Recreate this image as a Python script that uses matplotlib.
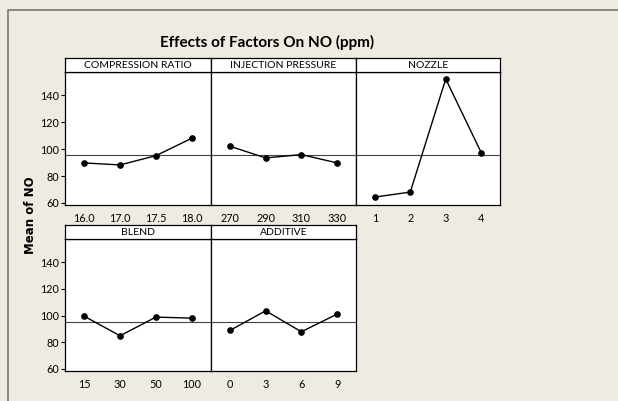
import numpy as np
import matplotlib
matplotlib.use("Agg")
import matplotlib.pyplot as plt
from matplotlib.lines import Line2D

# Main effects data (means of NO, ppm)
factors = ["COMPRESSION RATIO", "INJECTION PRESSURE", "NOZZLE", "BLEND", "ADDITIVE"]
cr_levels = ["16.0", "17.0", "17.5", "18.0"]
cr_means = [89.8, 88.3, 95.2, 108.2]
ip_levels = ["270", "290", "310", "330"]
ip_means = [102.2, 93.5, 96.0, 89.8]
nozzle_levels = ["1", "2", "3", "4"]
nozzle_means = [64.4, 68.1, 152.2, 97.5]
blend_levels = ["15", "30", "50", "100"]
blend_means = [99.6, 84.9, 98.9, 98.1]
additive_levels = ["0", "3", "6", "9"]
additive_means = [88.9, 103.6, 87.9, 101.1]
grand_mean = 95.4
y_ticks = [60, 80, 100, 120, 140]

levels = [cr_levels, ip_levels, nozzle_levels, blend_levels, additive_levels]
means = [cr_means, ip_means, nozzle_means, blend_means, additive_means]

W, H = 618, 401
bg = "#EFEBE2"
narrow = ["Lato", "DejaVu Sans"]

fig = plt.figure(figsize=(W / 100, H / 100), dpi=100, facecolor=bg)

def px(x0, y0, x1, y1):
    # pixel box (top-left origin) -> figure fraction rect
    return [x0 / W, 1 - y1 / H, (x1 - x0) / W, (y1 - y0) / H]

cols = [(65, 211), (211, 356), (356, 500)]
rows = [(58, 72, 205), (225, 239, 371)]

for i, name in enumerate(factors):
    r, c = divmod(i, 3)
    x0, x1 = cols[c]
    ys, yt, yb = rows[r]
    ax = fig.add_axes(px(x0, yt, x1, yb))
    ax.set_facecolor("white")
    xs = np.arange(len(levels[i]))
    ax.axhline(grand_mean, color="#444444", lw=0.8, zorder=1)
    ax.plot(xs, means[i], color="black", lw=1.0, marker="o", ms=3.8, zorder=3)
    ax.set_xlim(-0.53, 3.53)
    ax.set_ylim(58.5, 157.4)
    ax.set_xticks(xs)
    ax.set_xticklabels(levels[i], family=narrow, fontsize=7.8)
    ax.tick_params(axis="x", length=0, pad=6)
    if c == 0:
        ax.set_yticks(y_ticks)
        ax.set_yticklabels([str(t) for t in y_ticks], family=narrow, fontsize=7.8)
        ax.tick_params(axis="y", length=3, width=0.8, pad=1)
    else:
        ax.set_yticks([])
    for s in ax.spines.values():
        s.set_linewidth(0.9)
        s.set_color("black")

    # strip header
    sax = fig.add_axes(px(x0, ys, x1, yt))
    sax.set_facecolor("white")
    sax.set_xticks([])
    sax.set_yticks([])
    for s in sax.spines.values():
        s.set_linewidth(0.9)
    sax.text(0.5, 0.45, name, ha="center", va="center", fontsize=7.5,
             family=narrow, transform=sax.transAxes)

fig.text(267 / W, 1 - 42 / H, "Effects of Factors On NO (ppm)", ha="center",
         va="center", fontsize=11, fontweight="bold", family=narrow)
fig.text(30 / W, 1 - 215 / H, "Mean of NO", rotation=90, ha="center",
         va="center", fontsize=8.5, fontweight="bold", family="DejaVu Sans")

# outer frame
fig.add_artist(Line2D([8 / W, 8 / W, 1.0], [0.0, 1 - 10 / H, 1 - 10 / H],
                      transform=fig.transFigure, color="#777777", lw=1.2))

fig.savefig("out.png", dpi=100, facecolor=bg)
